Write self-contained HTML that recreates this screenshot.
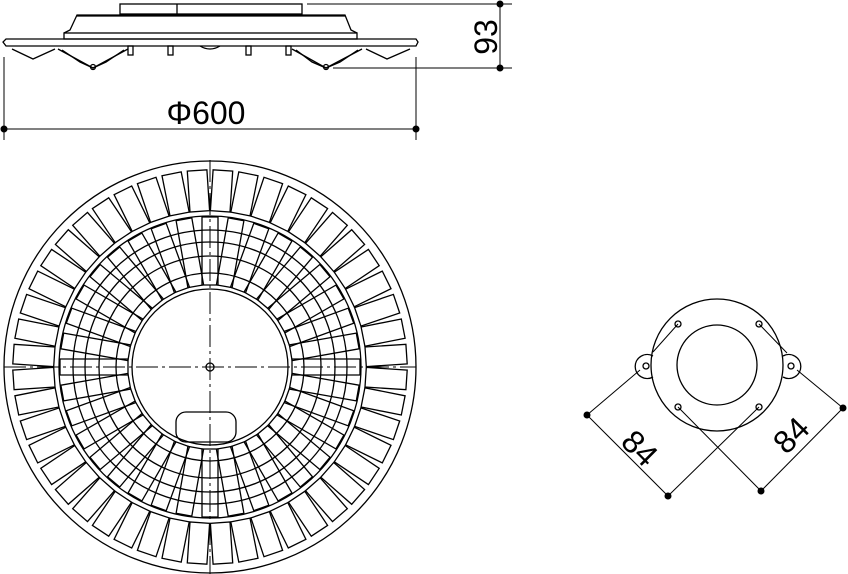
<!DOCTYPE html>
<html><head><meta charset="utf-8"><style>
html,body{margin:0;padding:0;background:#fff;}
svg{display:block;}
text{font-family:"Liberation Sans",sans-serif;fill:#000;}
</style></head><body>
<svg id="s" width="848" height="574" viewBox="0 0 848 574" xmlns="http://www.w3.org/2000/svg">
<g fill="none" stroke="#000" stroke-width="1.3">
<rect x="120" y="4" width="182" height="10"/>
<line x1="177" y1="4" x2="177" y2="14"/>
<polyline points="64,33 70,30 77,15 345,15 351,30 357,33"/>
<line x1="77" y1="16" x2="345" y2="16"/>
<rect x="64" y="33" width="293" height="6"/>
<path d="M6,39 L416,39 L418,42 L416,46 L6,46 L3,42 Z"/>
<polyline points="12,49 33,59 55,49"/>
<polyline points="58,49 93,68 128,49"/>
<polyline points="62,50 80,62 93,68 106,62 124,50"/>
<polyline points="292,49 326,68 362,49"/>
<polyline points="296,50 312,62 326,68 340,62 358,50"/>
<polyline points="366,49 387,59 410,49"/>
<circle cx="93" cy="67" r="2.5"/><circle cx="326" cy="67" r="2.5"/>
<rect x="128" y="46" width="5" height="9"/><rect x="168" y="46" width="5" height="9"/>
<rect x="246" y="46" width="5" height="9"/><rect x="286" y="46" width="5" height="9"/>
<path d="M200,46 Q210,52 220,46"/>
<line x1="4" y1="57" x2="4" y2="140" stroke-width="1"/>
<line x1="416" y1="57" x2="416" y2="140" stroke-width="1"/>
<line x1="4" y1="129" x2="416" y2="129" stroke-width="1"/>
<line x1="307" y1="4" x2="512" y2="4" stroke-width="1"/>
<line x1="333" y1="68" x2="512" y2="68" stroke-width="1"/>
<line x1="500" y1="4" x2="500" y2="68" stroke-width="1"/>
</g>
<g fill="#000">
<circle cx="4" cy="129" r="3.5"/><circle cx="416" cy="129" r="3.5"/>
<circle cx="500" cy="4" r="3.5"/><circle cx="500" cy="68" r="3.5"/>
</g>
<text x="206" y="124" font-size="32" text-anchor="middle">Φ600</text>
<text transform="translate(497,37) rotate(-90)" font-size="32" text-anchor="middle">93</text>

<g id="plan" fill="none" stroke="#000" stroke-width="1.3">
<circle cx="210" cy="367" r="206"/>
<circle cx="210" cy="367" r="151"/>
<circle cx="210" cy="367" r="137"/>
<circle cx="210" cy="367" r="125"/>
<circle cx="210" cy="367" r="111"/>
<circle cx="210" cy="367" r="94"/>
<circle cx="210" cy="367" r="78" fill="#fff"/>
<circle cx="210" cy="367" r="4"/>
<rect x="176" y="412" width="60" height="30" rx="10"/>
<line x1="210" y1="160" x2="210" y2="574" stroke-width="1" stroke-dasharray="22,4,3,4"/>
<line x1="4" y1="367" x2="416" y2="367" stroke-width="1" stroke-dasharray="22,4,3,4"/>
</g>

<g fill="none" stroke="#000" stroke-width="1.3">
<path d="M653,356 A12,12 0 1,0 653,377"/>
<path d="M783,356 A12,12 0 1,1 783,377"/>
<circle cx="717" cy="365" r="66"/>
<circle cx="717" cy="365" r="40"/>
<circle cx="678" cy="324" r="3"/><circle cx="759" cy="324" r="3"/>
<circle cx="678" cy="407" r="3"/><circle cx="759" cy="407" r="3"/>
<circle cx="646" cy="366" r="3"/><circle cx="791" cy="366" r="3"/>
<g stroke-width="1">
<line x1="678" y1="324" x2="653" y2="352"/>
<line x1="759" y1="324" x2="787" y2="353"/>
<line x1="640" y1="370" x2="587" y2="415"/>
<line x1="797" y1="370" x2="843" y2="408"/>
<line x1="587" y1="415" x2="668" y2="496"/>
<line x1="761" y1="491" x2="843" y2="408"/>
<line x1="759" y1="407" x2="668" y2="496"/>
<line x1="678" y1="407" x2="761" y2="491"/>
</g>
</g>
<g fill="#000">
<circle cx="587" cy="415" r="3.5"/><circle cx="668" cy="496" r="3.5"/>
<circle cx="761" cy="491" r="3.5"/><circle cx="843" cy="408" r="3.5"/>
</g>
<text transform="translate(632,456) rotate(45)" font-size="32" text-anchor="middle">84</text>
<text transform="translate(799,443) rotate(-45)" font-size="32" text-anchor="middle">84</text>

<script>
(function(){
var g=document.getElementById('plan'),ns='http://www.w3.org/2000/svg',cx=210,cy=367;
var first=g.children[6];
function rect(a,r1,r2,w){
 var ux=Math.cos(a),uy=Math.sin(a),vx=-uy,vy=ux;
 var p=[[r1,-w],[r2,-w],[r2,w],[r1,w]].map(function(q){return (cx+q[0]*ux+q[1]*vx).toFixed(1)+','+(cy+q[0]*uy+q[1]*vy).toFixed(1);});
 var e=document.createElementNS(ns,'polygon');e.setAttribute('points',p.join(' '));e.setAttribute('fill','#fff');
 return e;
}
for(var i=0;i<48;i++){g.insertBefore(rect((i+0.5)*Math.PI*2/48,156,197,9.8),g.children[1]);}
for(var i=0;i<36;i++){var e=rect(i*Math.PI*2/36,82,150,8);e.setAttribute('fill','none');g.insertBefore(e,first);}
})();
</script>
</svg>
</body></html>
